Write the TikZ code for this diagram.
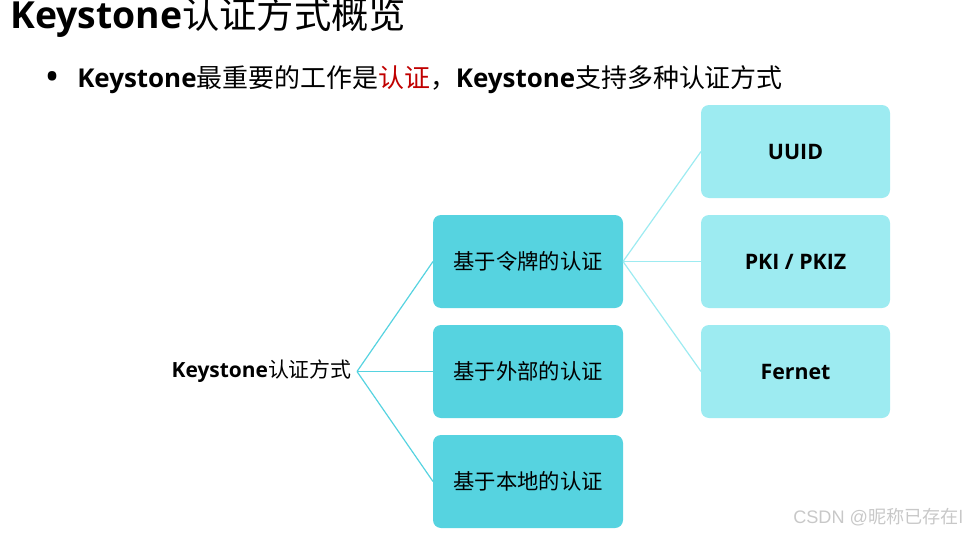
\documentclass[tikz,border=0pt]{standalone}
\usepackage{fontspec}
\setmainfont{Open Sans}
\newfontfamily\cjk{Noto Sans CJK SC}
\newfontfamily\marksans{Liberation Sans}
\usetikzlibrary{positioning}
\definecolor{midcyan}{HTML}{56D3E0}
\definecolor{lightcyan}{HTML}{9DEBF1}
\definecolor{keyred}{HTML}{C00000}
\definecolor{markgray}{HTML}{C8C8C8}

\begin{document}
\begin{tikzpicture}[
  x=0.75pt, y=-0.75pt,
  node distance=12.75pt and 58.5pt,
  method/.style={rectangle, rounded corners=6pt, fill=midcyan, minimum width=142.5pt, minimum height=69.75pt, outer sep=0pt, align=center, font=\cjk\fontsize{16}{19}\selectfont},
  token/.style={rectangle, rounded corners=6pt, fill=lightcyan, minimum width=141.75pt, minimum height=69.75pt, outer sep=0pt, align=center, font=\bfseries\fontsize{16}{19}\selectfont},
  link/.style={draw=midcyan, line width=0.9pt},
  sublink/.style={draw=lightcyan, line width=0.9pt}
]
\useasboundingbox (0,0) rectangle (967,535);

% Heading and bullet line.
\node[anchor=base west, inner sep=0pt, font=\fontsize{28}{31}\selectfont] (Title) at (10,29) {\textbf{Keystone}{\cjk 认证方式概览}};
\node[anchor=base west, inner sep=0pt, font=\bfseries\fontsize{23}{26}\selectfont] (Bullet) at (46,88) {•};
\node[anchor=base west, inner sep=0pt, font=\fontsize{19.45}{22}\selectfont] (Intro) at (77,87.5)
  {\textbf{Keystone}{\cjk 最重要的工作是\textcolor{keyred}{认证}，}\textbf{Keystone}{\cjk 支持多种认证方式}};

% Middle column: the three kinds of authentication.
\node[method] (External) at (528,371.5) {基于外部的认证};
\node[method, above=of External] (Token) {基于令牌的认证};
\node[method, below=of External] (Local) {基于本地的认证};

% Right column: token formats.
\node[token, right=of Token] (PKI) {PKI / PKIZ};
\node[token, above=of PKI] (UUID) {UUID};
\node[token, below=of PKI] (Fernet) {Fernet};

% Root label.
\node[left=57pt of External, inner sep=3.75pt, font=\fontsize{15.7}{19}\selectfont] (Keystone) {\textbf{Keystone}{\cjk 认证方式}};

% Connectors.
\draw[link] (Keystone.east) -- (Token.west);
\draw[link] (Keystone.east) -- (External.west);
\draw[link] (Keystone.east) -- (Local.west);
\draw[sublink] (Token.east) -- (UUID.west);
\draw[sublink] (Token.east) -- (PKI.west);
\draw[sublink] (Token.east) -- (Fernet.west);

% Watermark.
\node[anchor=base west, inner sep=0pt, text=markgray, font=\marksans\fontsize{13.6}{15}\selectfont] (Mark) at (793,523) {CSDN @{\cjk 昵称已存在}l};

\end{tikzpicture}
\end{document}
